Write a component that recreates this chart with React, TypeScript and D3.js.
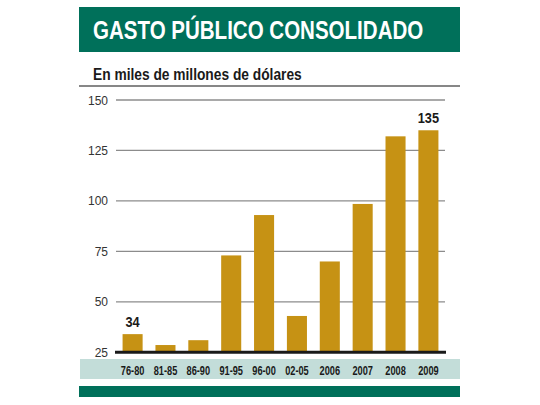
import React from "react"
import * as d3 from "d3"

// datos del gráfico
const periods = ["76-80", "81-85", "86-90", "91-95", "96-00", "02-05", "2006", "2007", "2008", "2009"]
const gasto = [34, 28.6, 31, 73, 93, 43, 70, 98.5, 132, 135]
const yTicks = [25, 50, 75, 100, 125, 150]
const labelled = ["76-80", "2009"]

const title = "GASTO PÚBLICO CONSOLIDADO"
const subtitle = "En miles de millones de dólares"

const W = 540
const H = 405
const green = "#00705a"
const gold = "#c69214"
const sans = "'Liberation Sans', Arial, sans-serif"

// texto comprimido horizontalmente (tipografía condensada)
const Narrow = ({ x, y, sx, anchor = "start", size, children, fill = "#1a1a1a" }: any) => (
  <text
    transform={`translate(${x},${y}) scale(${sx},1)`}
    textAnchor={anchor}
    fontFamily={sans}
    fontWeight="bold"
    fontSize={size}
    fill={fill}
  >
    {children}
  </text>
)

export default function App() {
  const x = d3.scaleBand<string>().domain(periods).range([116, 445]).paddingInner(0.39).paddingOuter(0.2)
  const y = d3.scaleLinear().domain([25, 150]).range([352.3, 100])

  return (
    <svg width={W} height={H} style={{ position: "absolute", left: 0, top: 0, background: "#fff" }}>
      {/* cabecera */}
      <rect x={79} y={7} width={381} height={45} fill={green} />
      <Narrow x={93} y={39} sx={0.79} size={26} fill="#fff">
        {title}
      </Narrow>
      <Narrow x={93} y={80} sx={0.81} size={17}>
        {subtitle}
      </Narrow>
      <line x1={79} x2={460} y1={86} y2={86} stroke="#111" strokeWidth={1.2} />

      {/* grilla y eje y */}
      {yTicks.map((t) => (
        <g key={t}>
          {t > 25 && <line x1={116} x2={445} y1={y(t)} y2={y(t)} stroke="#8c8c8c" strokeWidth={1.3} />}
          <text x={108} y={y(t) + 4.5} textAnchor="end" fontFamily={sans} fontSize={12} fill="#333">
            {t}
          </text>
        </g>
      ))}

      {/* barras */}
      {periods.map((p, i) => (
        <rect key={p} x={x(p)} y={y(gasto[i])} width={x.bandwidth()} height={y(25) - y(gasto[i])} fill={gold} />
      ))}
      {periods.map((p, i) =>
        labelled.includes(p) ? (
          <Narrow key={p} x={x(p)! + x.bandwidth() / 2} y={y(gasto[i]) - 7} sx={0.85} size={15} anchor="middle">
            {Math.round(gasto[i])}
          </Narrow>
        ) : null
      )}

      <line x1={115} x2={446} y1={y(25)} y2={y(25)} stroke="#1a1a1a" strokeWidth={3} />

      {/* banda de categorías */}
      <rect x={80} y={359} width={380} height={20} fill="#c3ddd9" />
      {periods.map((p) => (
        <Narrow key={p} x={x(p)! + x.bandwidth() / 2} y={375} sx={0.71} size={13} anchor="middle">
          {p}
        </Narrow>
      ))}

      <rect x={79} y={386} width={381} height={11} fill={green} />
    </svg>
  )
}
